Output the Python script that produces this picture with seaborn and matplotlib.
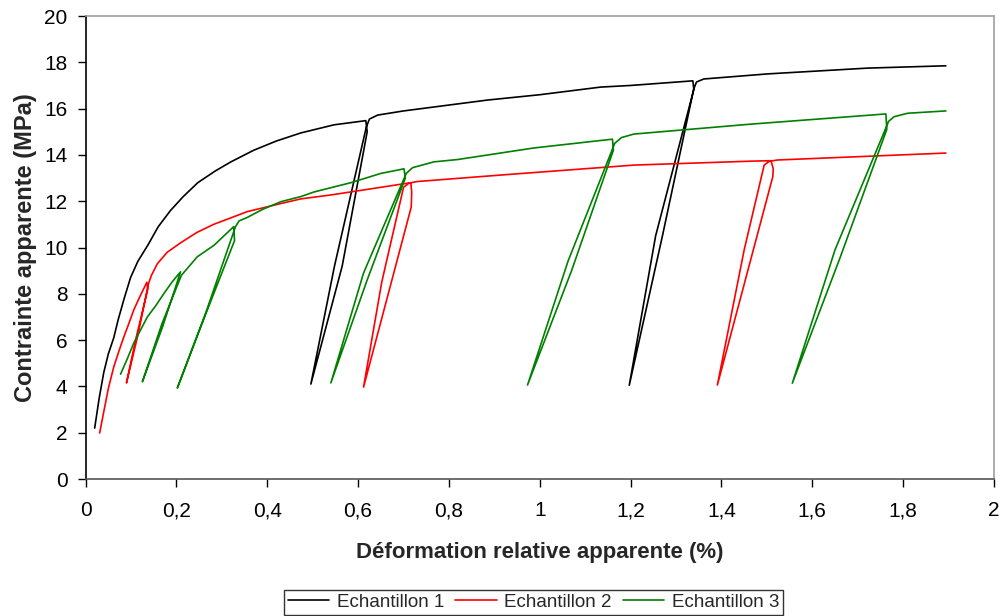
import numpy as np
import pandas as pd
import matplotlib
matplotlib.use("Agg")
import matplotlib.pyplot as plt
import seaborn as sns

# Courbes contrainte-deformation avec cycles de decharge/recharge
# Echantillon 1
def_1 = [0.020, 0.030, 0.040, 0.050, 0.062, 0.072, 0.085, 0.099, 0.115, 0.137, 0.160, 0.187,
         0.215, 0.247, 0.285, 0.320, 0.370, 0.420, 0.474, 0.547, 0.617,
         0.620, 0.565, 0.496,
         0.548, 0.618, 0.625, 0.643,
         0.700, 0.767, 0.885, 1.000, 1.134, 1.200, 1.337,
         1.339, 1.270, 1.197,
         1.255, 1.340, 1.345, 1.361,
         1.502, 1.722, 1.894]
con_1 = [2.2, 3.5, 4.6, 5.4, 6.1, 6.9, 7.8, 8.7, 9.4, 10.1, 10.9, 11.6,
         12.2, 12.8, 13.3, 13.7, 14.2, 14.6, 14.95, 15.3, 15.48,
         15.0, 9.2, 4.1,
         9.2, 15.2, 15.55, 15.72,
         15.9, 16.07, 16.37, 16.6, 16.93, 17.0, 17.2,
         16.85, 10.5, 4.05,
         10.5, 16.9, 17.15, 17.28,
         17.5, 17.75, 17.85]

# Echantillon 2
def_2 = [0.031, 0.040, 0.050, 0.062, 0.073, 0.084, 0.095, 0.106, 0.120, 0.135,
         0.137, 0.110, 0.090,
         0.115, 0.138, 0.145, 0.158,
         0.180, 0.209, 0.245, 0.282, 0.356, 0.430, 0.474, 0.540, 0.650, 0.716,
         0.718, 0.717, 0.612,
         0.652, 0.700, 0.712, 0.730,
         0.914, 1.207, 1.465, 1.509,
         1.514, 1.513, 1.391,
         1.450, 1.494, 1.505, 1.523,
         1.894]
con_2 = [1.99, 2.9, 3.9, 4.84, 5.5, 6.13, 6.7, 7.3, 7.9, 8.5,
         8.2, 6.0, 4.15,
         6.2, 8.4, 8.8, 9.3,
         9.8, 10.2, 10.65, 11.0, 11.55, 11.9, 12.1, 12.27, 12.6, 12.8,
         12.4, 11.75, 3.97,
         8.5, 12.6, 12.78, 12.85,
         13.13, 13.56, 13.73, 13.75,
         13.4, 13.06, 4.06,
         9.9, 13.56, 13.72, 13.78,
         14.08]

# Echantillon 3
def_3 = [0.077, 0.092, 0.106, 0.120, 0.136, 0.155, 0.172, 0.190, 0.209,
         0.170, 0.125,
         0.168, 0.211, 0.246, 0.283, 0.326,
         0.328, 0.262, 0.202,
         0.265, 0.330, 0.338, 0.356,
         0.390, 0.430, 0.474, 0.503, 0.584, 0.650, 0.701,
         0.704, 0.620, 0.540,
         0.612, 0.706, 0.720, 0.767,
         0.819, 0.987, 1.160,
         1.162, 1.070, 0.973,
         1.062, 1.165, 1.180, 1.207,
         1.465, 1.762,
         1.764, 1.660, 1.556,
         1.650, 1.768, 1.780, 1.810, 1.894]
con_3 = [4.53, 5.2, 5.87, 6.4, 7.0, 7.5, 8.0, 8.5, 8.95,
         6.6, 4.2,
         6.7, 8.8, 9.6, 10.1, 10.9,
         10.3, 7.0, 3.93,
         7.2, 10.9, 11.15, 11.3,
         11.65, 11.98, 12.2, 12.4, 12.8, 13.2, 13.4,
         13.0, 8.6, 4.15,
         8.9, 13.2, 13.45, 13.7,
         13.8, 14.3, 14.68,
         14.2, 9.0, 4.06,
         9.4, 14.5, 14.75, 14.9,
         15.33, 15.77,
         15.1, 9.5, 4.14,
         9.9, 15.45, 15.65, 15.8, 15.9]

noms = ["Echantillon 1", "Echantillon 2", "Echantillon 3"]
couleurs = ["#000000", "#ff0000", "#008000"]

df = pd.concat([
    pd.DataFrame({"def": d, "con": c, "ech": n})
    for d, c, n in [(def_1, con_1, noms[0]), (def_2, con_2, noms[1]), (def_3, con_3, noms[2])]
], ignore_index=True)

sns.set_style("white")
plt.rcParams['font.family'] = ['Liberation Sans', 'DejaVu Sans']

fig = plt.figure(figsize=(10.01, 6.16), dpi=100)
ax = fig.add_axes([0.0855, 0.2224, 0.9075, 0.7516])

sns.lineplot(data=df, x="def", y="con", hue="ech", palette=couleurs, sort=False,
             estimator=None, units="ech", linewidth=1.2, ax=ax)

ax.set_xlim(0, 2)
ax.set_ylim(0, 20)
xt = np.arange(0, 2.01, 0.2)
ax.set_xticks(xt)
ax.set_xticklabels([("%g" % v).replace(".", ",") for v in xt], fontsize=15)
ax.set_yticks(np.arange(0, 21, 2))
ax.set_yticklabels([str(v) for v in range(0, 21, 2)], fontsize=15)
ax.tick_params(direction="out", length=6, width=1, colors="#000000", pad=7,
               left=True, bottom=True)
ax.tick_params(axis="x", pad=10)

ax.spines["left"].set_color("#000000")
ax.spines["bottom"].set_color("#555555")
ax.spines["top"].set_color("#a0a0a0")
ax.spines["right"].set_color("#a0a0a0")
for s in ax.spines.values():
    s.set_linewidth(1.2)

ax.set_xlabel("Déformation relative apparente (%)", fontsize=16, fontweight="bold", labelpad=16)
ax.set_ylabel("Contrainte apparente (MPa)", fontsize=17, fontweight="bold", labelpad=5)

leg = ax.legend(loc="lower center", bbox_to_anchor=(0.493, -0.313), ncol=3, fontsize=13.5,
                frameon=True, fancybox=False, handlelength=2.2, handletextpad=0.4,
                columnspacing=0.6, borderpad=0.2)
leg.get_frame().set_edgecolor("#000000")
leg.get_frame().set_linewidth(1.0)

fig.savefig("out.png", dpi=100)
